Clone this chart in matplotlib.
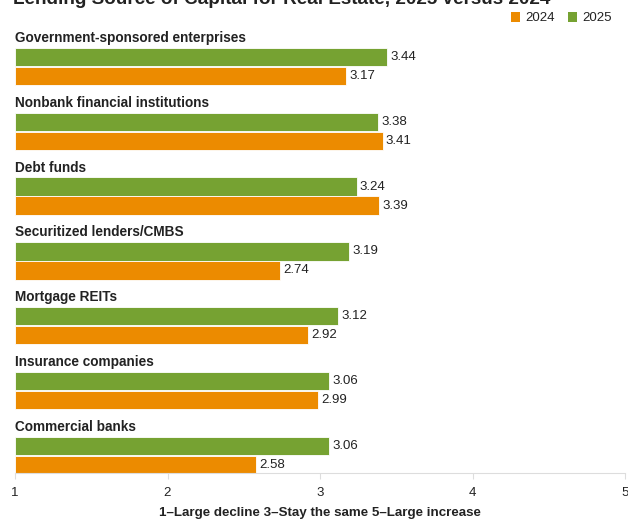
import matplotlib
matplotlib.use("Agg")
import matplotlib.pyplot as plt
from matplotlib.patches import Patch
import numpy as np

plt.rcParams["font.family"] = ["Liberation Sans", "DejaVu Sans"]

# Survey scores, 1 = large decline, 5 = large increase
categories = ["Government-sponsored enterprises", "Nonbank financial institutions",
              "Debt funds", "Securitized lenders/CMBS", "Mortgage REITs",
              "Insurance companies", "Commercial banks"]
score_2025 = [3.44, 3.38, 3.24, 3.19, 3.12, 3.06, 3.06]
score_2024 = [3.17, 3.41, 3.39, 2.74, 2.92, 2.99, 2.58]
x_ticks = [1, 2, 3, 4, 5]

title = "Lending Source of Capital for Real Estate, 2025 versus 2024"
xlabel = "1\u2013Large decline 3\u2013Stay the same 5\u2013Large increase"

GREEN = "#76a232"
ORANGE = "#ec8b00"
TEXT = "#222222"

W, H = 628, 521
fig = plt.figure(figsize=(W / 100, H / 100), dpi=100)
ax = fig.add_axes([15 / W, (H - 473) / H, 610 / W, 445 / H])

y = np.arange(len(categories))
bar_h = 0.285
off = 0.293

ax.barh(y, np.array(score_2025) - 1, left=1, height=bar_h, color=GREEN,
        edgecolor="white", linewidth=0.6)
ax.barh(y + off, np.array(score_2024) - 1, left=1, height=bar_h, color=ORANGE,
        edgecolor="white", linewidth=0.6)

for i, name in enumerate(categories):
    ax.text(1, i - off, name, fontsize=9.8, fontweight="bold", color=TEXT,
            ha="left", va="center")
    ax.text(score_2025[i] + 0.02, i, f"{score_2025[i]:.2f}", fontsize=9.5,
            color=TEXT, ha="left", va="center")
    ax.text(score_2024[i] + 0.02, i + off, f"{score_2024[i]:.2f}", fontsize=9.5,
            color=TEXT, ha="left", va="center")

ax.set_xlim(1, 5)
ax.set_ylim(6.42, -0.4475)
ax.set_xticks(x_ticks)
ax.set_xticklabels([str(t) for t in x_ticks])
ax.set_yticks([])
ax.tick_params(axis="x", length=4, color="#dddddd", labelsize=9.5,
               labelcolor=TEXT, pad=6)
for side in ["top", "right", "left"]:
    ax.spines[side].set_visible(False)
ax.spines["bottom"].set_color("#dddddd")
ax.set_xlabel(xlabel, fontsize=9.6, fontweight="bold", color=TEXT, labelpad=6)

# title sits at the very top edge
fig.text(13 / W, 1 - 4 / H, title, fontsize=13.6, fontweight="bold", color=TEXT,
         ha="left", va="baseline")

handles = [Patch(facecolor=ORANGE, label="2024"), Patch(facecolor=GREEN, label="2025")]
fig.legend(handles=handles, loc="center right", bbox_to_anchor=(612 / W, 1 - 18 / H),
           ncol=2, frameon=False, fontsize=9.5, handlelength=0.7, handleheight=0.8,
           handletextpad=0.4, columnspacing=1.0, borderpad=0, borderaxespad=0,
           labelcolor=TEXT)

fig.savefig("out.png", dpi=100)
